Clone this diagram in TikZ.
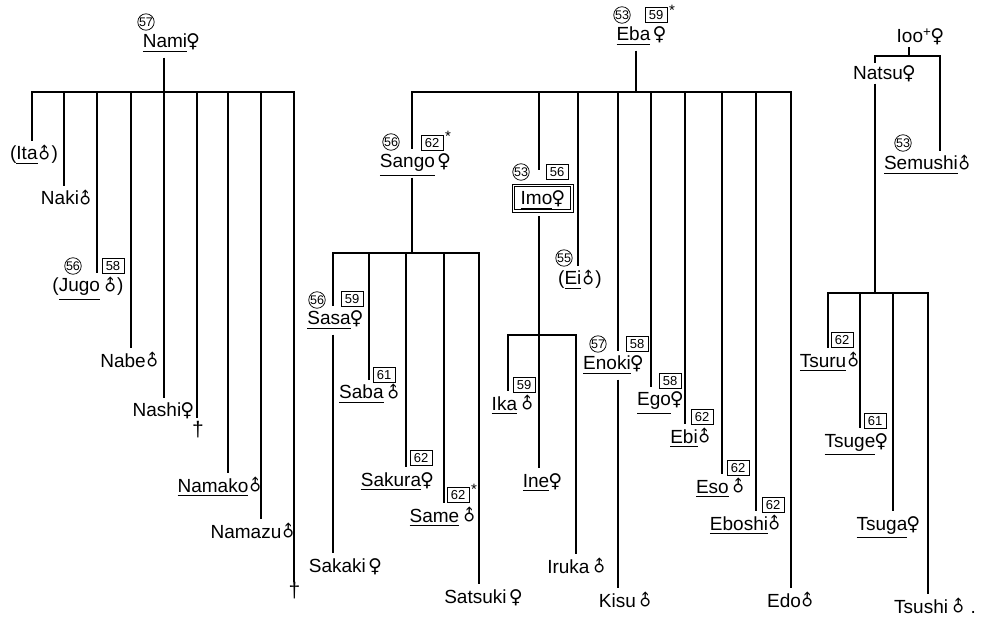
\documentclass[tikz,border=0pt]{standalone}
\usepackage{fontspec}
\setmainfont{Liberation Sans}
\newfontfamily\symf{DejaVu Sans}
\usetikzlibrary{calc}
\newcommand\F{\makebox[12pt][c]{\symf\fontsize{19}{19}\selectfont ♀}}
\newcommand\M{\makebox[14pt][c]{\raisebox{1pt}{\rotatebox[origin=c]{45}{\symf\fontsize{16}{16}\selectfont ♂}}}}
\newcommand\ul[1]{\setbox0\hbox{#1}\dimen0=\dp0 \advance\dimen0 by 4pt \rlap{\rule[-\dimen0]{\wd0}{0.9pt}}\box0}
\tikzset{
  pn/.style={anchor=base, inner xsep=0pt, inner ysep=5.5pt, font=\fontsize{19}{19}\selectfont, text height=13.5pt, text depth=4pt},
  cn/.style={circle, draw, line width=0.75pt, inner sep=0pt, minimum size=16pt, font=\fontsize{12.5}{12.5}\selectfont},
  bn/.style={draw, line width=0.75pt, inner sep=0pt, minimum width=22pt, minimum height=15pt, font=\fontsize{13}{13}\selectfont},
  st/.style={inner sep=0pt, font=\fontsize{15}{15}\selectfont},
  dg/.style={anchor=north, inner sep=0pt, font=\fontsize{21}{21}\selectfont},
  ln/.style={line width=1.3pt},
  imobox/.style={draw, line width=0.8pt, minimum width=61pt, minimum height=28pt, inner sep=0pt, font=\fontsize{19}{19}\selectfont, text height=13.5pt, text depth=0pt}
}
\begin{document}
\begin{tikzpicture}[x=1pt,y=-1pt]
\useasboundingbox (0,0) rectangle (991,620);

% ---------------- Nami family ----------------
\node[pn] (nami) at (171,48) {\ul{Nami}\F};
\node[cn] (c57a) at (146,22) {57};
\coordinate (nm) at (164,92);
\coordinate (n1) at (32,92);
\coordinate (n2) at (64,92);
\coordinate (n3) at (97,92);
\coordinate (n4) at (131,92);
\coordinate (n5) at (164,92);
\coordinate (n6) at (197,92);
\coordinate (n7) at (228,92);
\coordinate (n8) at (261,92);
\coordinate (n9) at (294,92);
\node[pn] (ita) at (34,160) {(\ul{Ita}\M)};
\node[pn] (naki) at (67,205) {Naki\M};
\node[pn] (jugo) at (88,292) {(\ul{Jugo}\,\M)};
\node[cn] (c56a) at (73,266) {56};
\node[bn] (b58a) at (113,266) {58};
\node[pn] (nabe) at (130,367) {Nabe\M};
\node[pn] (nashi) at (163,417) {Nashi\F};
\node[dg] (d1) at (198,421) {†};
\node[pn] (namako) at (220,492) {\ul{Namako}\M};
\node[pn] (namazu) at (253,538) {Namazu\M};
\node[dg] (d2) at (294.5,582) {†};
\draw[ln] (nami.south -| nm) -- (nm);
\draw[ln] (n1 |- ita.north) -- (n1) -- (n9) -- (n9 |- d2.north);
\draw[ln] (n2) -- (n2 |- naki.north);
\draw[ln] (n3) -- (n3 |- jugo.north);
\draw[ln] (n4) -- (n4 |- nabe.north);
\draw[ln] (n5) -- (n5 |- nashi.north);
\draw[ln] (n6) -- ($(n6 |- d1.north)+(0,-3)$);
\draw[ln] (n7) -- (n7 |- namako.north);
\draw[ln] (n8) -- (n8 |- namazu.north);

% ---------------- Eba family ----------------
\node[pn] (eba) at (641,41) {\ul{Eba}\,\F};
\node[cn] (c53a) at (622,15) {53};
\node[bn] (b59a) at (656,15) {59};
\node[st] (sta) at (672,10) {*};
\coordinate (eb) at (636,92);
\coordinate (e1) at (412,92);
\coordinate (e2) at (539,92);
\coordinate (e3) at (578,92);
\coordinate (e4) at (618,92);
\coordinate (e5) at (651,92);
\coordinate (e6) at (685,92);
\coordinate (e7) at (722,92);
\coordinate (e8) at (756,92);
\coordinate (e9) at (791,92);

\node[pn] (sango) at (415,168) {\ul{Sango}\,\F};
\node[cn] (c56b) at (391,142) {56};
\node[bn] (b62a) at (432,143) {62};
\node[st] (stb) at (448,136) {*};

\node[imobox] (imo) at (542.5,198) {\ul{Imo}\F};
\draw[line width=0.8pt] ($(imo.north west)+(3,3)$) rectangle ($(imo.south east)+(-3,-3)$);
\node[cn] (c53b) at (521,172) {53};
\node[bn] (b56a) at (557,172) {56};

\node[pn] (ei) at (580,285) {(\ul{Ei}\M)};
\node[cn] (c55a) at (564,258) {55};

\node[pn] (enoki) at (613,370) {\ul{Enoki}\F};
\node[cn] (c57b) at (598,344) {57};
\node[bn] (b58b) at (637,344) {58};
\node[pn] (kisu) at (626,607) {Kisu\,\M};

\node[pn] (ego) at (660,406) {\ul{Ego}\F};
\node[bn] (b58c) at (670,381) {58};
\node[pn] (ebi) at (691,443) {\ul{Ebi}\M};
\node[bn] (b62d) at (702,417) {62};
\node[pn] (eso) at (721,493) {\ul{Eso}\,\M};
\node[bn] (b62e) at (738,468) {62};
\node[pn] (eboshi) at (746,530) {\ul{Eboshi}\M};
\node[bn] (b62f) at (773,505) {62};
\node[pn] (edo) at (791,607) {Edo\M};

\draw[ln] (eba.south -| eb) -- (eb);
\draw[ln] (e1 |- sango.north) -- (e1) -- (e9) -- (e9 |- edo.north);
\draw[ln] (e2) -- ($(imo.north -| e2)+(0,-14)$);
\draw[ln] (e3) -- (e3 |- ei.north);
\draw[ln] (e4) -- (e4 |- enoki.north);
\draw[ln] (enoki.south -| e4) -- (e4 |- kisu.north);
\draw[ln] (e5) -- (e5 |- ego.north);
\draw[ln] (e6) -- (e6 |- ebi.north);
\draw[ln] (e7) -- (e7 |- eso.north);
\draw[ln] (e8) -- (e8 |- eboshi.north);

% Sango's children
\coordinate (sg) at (412,253);
\coordinate (s1) at (333,253);
\coordinate (s2) at (369,253);
\coordinate (s3) at (406,253);
\coordinate (s4) at (444,253);
\coordinate (s5) at (479,253);
\node[pn] (sasa) at (335,325) {\ul{Sasa}\F};
\node[cn] (c56c) at (317,300) {56};
\node[bn] (b59b) at (352,299) {59};
\node[pn] (sakaki) at (345,572) {Sakaki\,\F};
\node[pn] (saba) at (370,399) {\ul{Saba}\,\M};
\node[bn] (b61a) at (384,375) {61};
\node[pn] (sakura) at (397,486) {\ul{Sakura}\F};
\node[bn] (b62b) at (421,458) {62};
\node[pn] (same) at (443,522) {\ul{Same}\,\M};
\node[bn] (b62c) at (458,495) {62};
\node[st] (stc) at (474,489) {*};
\node[pn] (satsuki) at (483,603) {Satsuki\,\F};
\draw[ln] (sango.south -| sg) -- (sg);
\draw[ln] (s1 |- sasa.north) -- (s1) -- (s5) -- (s5 |- satsuki.north);
\draw[ln] (sasa.south -| s1) -- (s1 |- sakaki.north);
\draw[ln] (s2) -- (s2 |- saba.north);
\draw[ln] (s3) -- (s3 |- sakura.north);
\draw[ln] (s4) -- (s4 |- same.north);

% Imo's children
\coordinate (im) at (539,335);
\coordinate (i1) at (508,335);
\coordinate (i3) at (576,335);
\node[pn] (ika) at (513,410) {\ul{Ika}\,\M};
\node[bn] (b59c) at (524,385) {59};
\node[pn] (ine) at (542,487) {\ul{Ine}\F};
\node[pn] (iruka) at (577,573) {Iruka\,\M};
\draw[ln] ($(imo.south -| im)+(0,4)$) -- (im);
\draw[ln] (i1 |- ika.north) -- (i1) -- (i3) -- (i3 |- iruka.north);
\draw[ln] (im) -- (im |- ine.north);

% ---------------- Natsu family ----------------
\node[pn, text depth=0pt, inner ysep=4pt] (ioo) at (920,43) {Ioo\textsuperscript{+}\F};
\node[pn, text depth=0pt, inner ysep=3.5pt] (natsu) at (884,80) {Natsu\F};
\node[pn] (semushi) at (928,170) {\ul{Semushi}\M};
\node[cn] (c53c) at (903,143) {53};
\coordinate (t0) at (909,56);
\coordinate (t1) at (875,56);
\coordinate (t2) at (940,56);
\draw[ln] (ioo.south -| t0) -- (t0);
\draw[ln] (natsu.north -| t1) -- (t1) -- (t2) -- (t2 |- semushi.north);

\coordinate (tb) at (875,293);
\coordinate (u1) at (828,293);
\coordinate (u2) at (860,293);
\coordinate (u3) at (893,293);
\coordinate (u4) at (928,293);
\node[pn] (tsuru) at (830,367) {\ul{Tsuru}\M};
\node[bn] (b62g) at (842,340) {62};
\node[pn] (tsuge) at (856,447) {\ul{Tsuge}\F};
\node[bn] (b61b) at (875,421) {61};
\node[pn] (tsuga) at (888,530) {\ul{Tsuga}\F};
\node[pn] (tsushi) at (935,613) {Tsushi\,\M\ .};
\draw[ln] (natsu.south -| tb) -- (tb);
\draw[ln] (u1 |- tsuru.north) -- (u1) -- (u4) -- (u4 |- tsushi.north);
\draw[ln] (u2) -- (u2 |- tsuge.north);
\draw[ln] (u3) -- (u3 |- tsuga.north);
\end{tikzpicture}
\end{document}
